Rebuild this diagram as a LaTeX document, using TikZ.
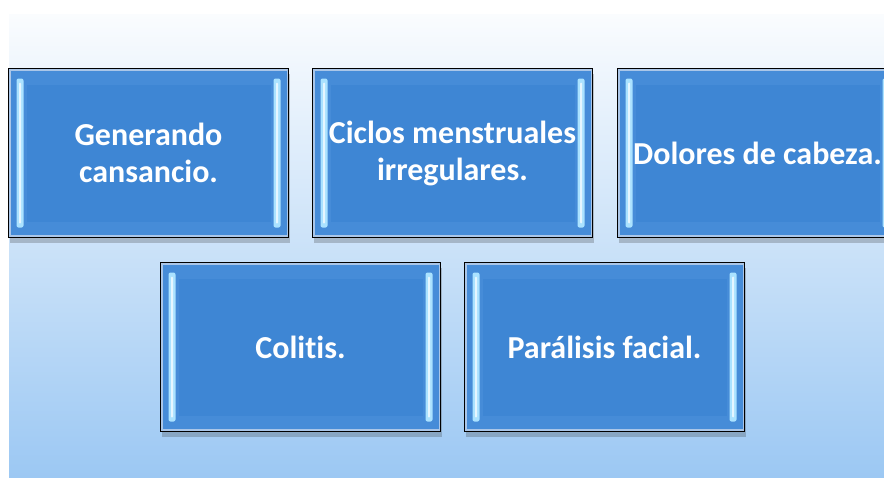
\documentclass[tikz,border=0pt]{standalone}
\usepackage{fontspec}
\setmainfont{Carlito}[Ligatures={NoCommon}]
\usetikzlibrary{shadows}
\definecolor{boxblue}{RGB}{62,134,212}
\definecolor{frameblue}{RGB}{70,140,216}
\definecolor{rimblue}{RGB}{170,198,232}
\definecolor{stripblue}{RGB}{170,226,255}
\definecolor{bgtop}{RGB}{250,252,254}
\definecolor{bgbot}{RGB}{156,200,243}
\tikzset{
  boxnode/.style={draw=black, line width=1.3pt, fill=boxblue,
    minimum width=280pt, minimum height=169pt, inner sep=0pt,
    text=white, font=\fontsize{32}{37}\selectfont\bfseries, align=center,
    drop shadow={shadow xshift=1pt, shadow yshift=-5pt, opacity=0.25, fill=black!80},
    path picture={
      \coordinate (nw) at (path picture bounding box.north west);
      \coordinate (se) at (path picture bounding box.south east);
      \fill[rimblue] (nw) rectangle (se);
      \fill[frameblue] ([xshift=2pt,yshift=-2.5pt]nw) rectangle ([xshift=-2pt,yshift=2.5pt]se);
      \fill[boxblue] ([xshift=18pt,yshift=-16pt]nw) rectangle ([xshift=-18pt,yshift=16pt]se);
      \fill[stripblue, rounded corners=2pt] ([xshift=8pt,yshift=-10pt]nw) rectangle ([xshift=15pt,yshift=10pt]nw |- se);
      \fill[white!70!stripblue, rounded corners=1pt] ([xshift=10.5pt,yshift=-14pt]nw) rectangle ([xshift=12.5pt,yshift=14pt]nw |- se);
      \fill[stripblue, rounded corners=2pt] ([xshift=-15pt,yshift=-10pt]se |- nw) rectangle ([xshift=-8pt,yshift=10pt]se);
      \fill[white!70!stripblue, rounded corners=1pt] ([xshift=-12.5pt,yshift=-14pt]se |- nw) rectangle ([xshift=-10.5pt,yshift=14pt]se);
    }}
}
\begin{document}
\begin{tikzpicture}[x=1pt,y=-1pt]
\useasboundingbox (0,0) rectangle (884,477);
\fill[top color=bgtop, bottom color=bgbot] (9,14) rectangle (884,477);
\node[boxnode] (a) at (148.5,153) {Generando\\cansancio.};
\node[boxnode] (b) at (452.5,153) {Ciclos menstruales\\irregulares.};
\node[boxnode] (c) at (757.5,153) {Dolores de cabeza.};
\node[boxnode] (d) at (300.5,347) {Colitis.};
\node[boxnode] (e) at (604.5,347) {Parálisis facial.};
\end{tikzpicture}
\end{document}
